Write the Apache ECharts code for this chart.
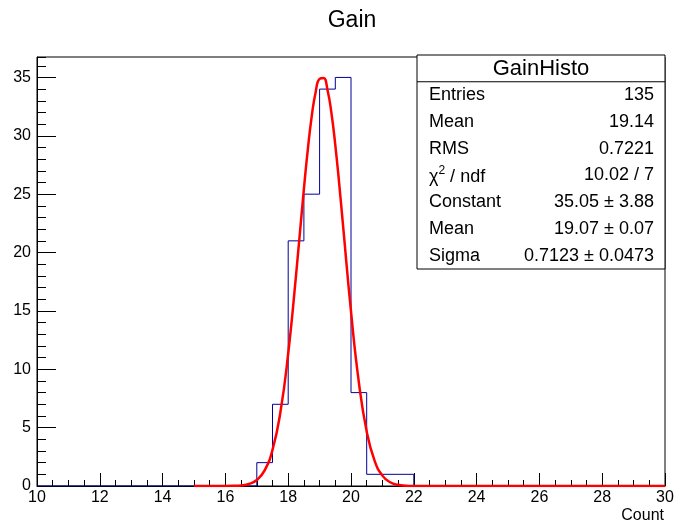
<!DOCTYPE html>
<html>
<head>
<meta charset="utf-8">
<script src="https://cdn.jsdelivr.net/npm/echarts@6/dist/echarts.min.js"></script>
<style>
html,body{margin:0;padding:0;background:#fff;}
#main{width:682px;height:523px;}
</style>
</head>
<body>
<div id="main"></div>
<script>
// ---- data ----
var chartTitle = 'Gain';
var xAxisName = 'Count';
var xRange = [10, 30];
var yMax = 36.75;
// histogram: left bin edges (bin width 0.5) and counts
var binWidth = 0.5;
var binLeft = [17, 17.5, 18, 18.5, 19, 19.5, 20, 20.5, 21, 21.5];
var binCount = [2, 7, 21, 25, 34, 35, 8, 1, 1, 1];
// fit curve, points
var fitX = [15, 15.5, 16, 16.25, 16.5, 16.75, 17, 17.25, 17.5, 17.75, 18, 18.25, 18.5, 18.625, 18.75, 18.875, 19, 19.125, 19.25, 19.375, 19.5, 19.625, 19.75, 20, 20.25, 20.5, 20.75, 21, 21.25, 21.5, 21.75, 22, 22.25, 22.5, 30];
var fitY = [0, 0, 0.003, 0.014, 0.05, 0.17, 0.51, 1.34, 3.09, 6.29, 11.35, 18.07, 25.45, 28.84, 31.69, 33.76, 34.88, 34.95, 33.95, 31.98, 29.21, 25.87, 22.22, 14.95, 8.89, 4.67, 2.17, 0.89, 0.32, 0.10, 0.03, 0.007, 0.002, 0, 0];
// stats box
var statsTitle = 'GainHisto';
var statsLabels = ['Entries', 'Mean', 'RMS', 'CHI2', 'Constant', 'Mean', 'Sigma'];
var statsValues = ['135', '19.14', '0.7221', '10.02 / 7', '35.05 \u00b1 3.88', '19.07 \u00b1 0.07', '0.7123 \u00b1 0.0473'];
var yLabelTicks = [0, 5, 10, 15, 20, 25, 30, 35];

// ---- build ----
var histData = [[xRange[0], 0]];
for (var i = 0; i < binLeft.length; i++) histData.push([binLeft[i], binCount[i]]);
histData.push([binLeft[binLeft.length - 1] + binWidth, 0]);
histData.push([xRange[1], 0]);
var fitData = fitX.map(function (x, i) { return [x, fitY[i]]; });

var FONT = 'Liberation Sans, Arial, Helvetica, sans-serif';
var chart = echarts.init(document.getElementById('main'), null, {renderer: 'canvas'});

var gl = 37, gt = 57, gr = 665, gb = 486;
var bx = 417, by = 55, bw = 248, bh = 214;
var rowH = bh / (statsLabels.length + 1);

var graphics = [
  {type: 'rect', shape: {x: bx, y: by, width: bw, height: bh}, style: {fill: '#fff', stroke: '#000', lineWidth: 1}, z: 100},
  {type: 'line', shape: {x1: bx, y1: by + rowH, x2: bx + bw, y2: by + rowH}, style: {stroke: '#000', lineWidth: 1}, z: 101},
  {type: 'text', x: bx + bw / 2, y: by + rowH / 2 + 1, style: {text: statsTitle, font: '22px ' + FONT, fill: '#000', textAlign: 'center', textVerticalAlign: 'middle'}, z: 101}
];
for (var k = 0; k < statsLabels.length; k++) {
  var cy = by + rowH * (k + 1.5);
  var lab = statsLabels[k];
  if (lab === 'CHI2') {
    graphics.push({type: 'text', x: bx + 12, y: cy, z: 101, style: {
      text: '{a|\u03c7}{s|2}{a| / ndf}', fill: '#000', textVerticalAlign: 'middle', textAlign: 'left',
      rich: {a: {fontSize: 18, fontFamily: FONT, lineHeight: 22, verticalAlign: 'bottom'}, s: {fontSize: 12, fontFamily: FONT, lineHeight: 22, verticalAlign: 'top'}}
    }});
  } else {
    graphics.push({type: 'text', x: bx + 12, y: cy, z: 101, style: {text: lab, font: '18px ' + FONT, fill: '#000', textAlign: 'left', textVerticalAlign: 'middle'}});
  }
  graphics.push({type: 'text', x: bx + bw - 11, y: cy, z: 101, style: {text: statsValues[k], font: '18px ' + FONT, fill: '#000', textAlign: 'right', textVerticalAlign: 'middle'}});
}
graphics.push({type: 'text', x: 352, y: 21, style: {text: chartTitle, font: '23px ' + FONT, fill: '#000', textAlign: 'center', textVerticalAlign: 'middle'}});
graphics.push({type: 'text', x: 664, y: 516, style: {text: xAxisName, font: '16px ' + FONT, fill: '#000', textAlign: 'right', textVerticalAlign: 'middle'}});

var option = {
  animation: false,
  backgroundColor: '#fff',
  grid: {left: gl, top: gt, right: 682 - gr, bottom: 523 - gb, containLabel: false, show: true, borderColor: '#000', borderWidth: 1, backgroundColor: 'transparent'},
  xAxis: {
    type: 'value', min: xRange[0], max: xRange[1], interval: 2,
    axisLine: {show: true, onZero: false, lineStyle: {color: '#000', width: 1}},
    axisTick: {show: true, inside: true, length: 13, lineStyle: {color: '#000'}},
    minorTick: {show: true, splitNumber: 4, length: 6, lineStyle: {color: '#000'}},
    splitLine: {show: false},
    axisLabel: {color: '#000', fontSize: 16, fontFamily: FONT, margin: 4}
  },
  yAxis: [{
    type: 'value', min: 0, max: yMax, interval: 5,
    axisLine: {show: true, lineStyle: {color: '#000', width: 1}},
    axisTick: {show: true, inside: true, length: 19, lineStyle: {color: '#000'}},
    splitLine: {show: false},
    axisLabel: {color: '#000', fontSize: 16, fontFamily: FONT, margin: 6, showMaxLabel: false,
      formatter: function (v) { return yLabelTicks.indexOf(v) >= 0 ? String(v) : ''; }}
  }, {
    type: 'value', min: 0, max: yMax, interval: 1, position: 'left',
    axisLine: {show: false},
    axisTick: {show: true, inside: true, length: 9, lineStyle: {color: '#000'}},
    splitLine: {show: false},
    axisLabel: {show: false}
  }],
  series: [{
    type: 'line', data: histData, step: 'end', showSymbol: false, symbol: 'none',
    lineStyle: {color: '#000099', width: 1}, z: 3
  }, {
    type: 'line', data: fitData, smooth: 0.5, showSymbol: false, symbol: 'none',
    lineStyle: {color: '#ff0000', width: 2.5}, z: 4
  }],
  graphic: graphics
};
chart.setOption(option);
</script>
</body>
</html>
